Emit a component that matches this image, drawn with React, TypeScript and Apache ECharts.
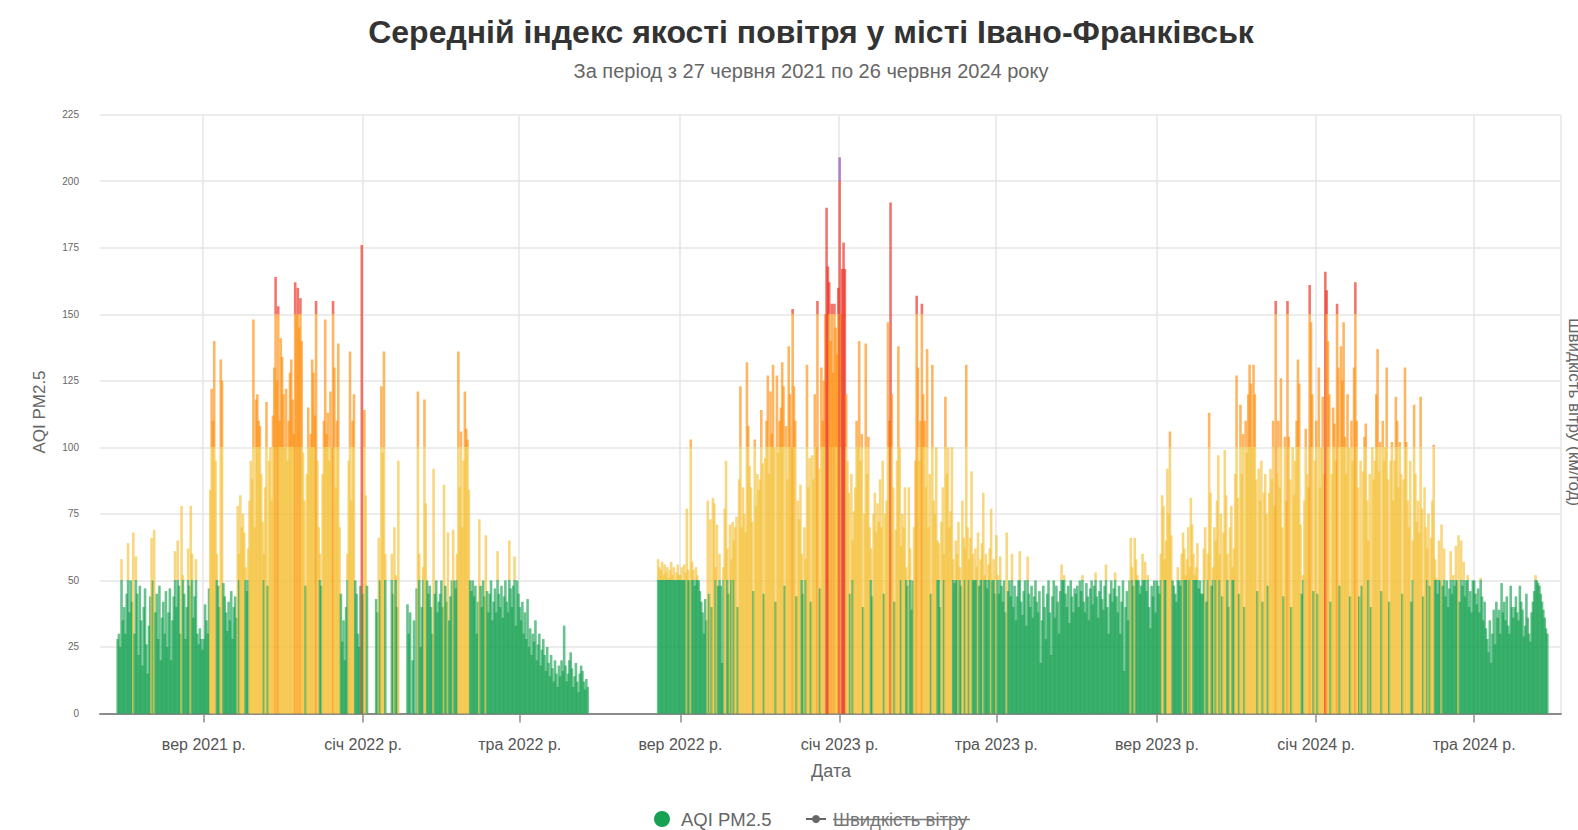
import { useEffect, useRef } from "react";
import * as echarts from "echarts";

// ---- Daily AQI PM2.5 values, one array per month ----
const jun2021 = [28, 30, 25, 58]; // from 27 June 2021
const jul2021 = [35, 40, 30, 45, 64, 38, 50, 42, 68, 30, 59, 45, 22, 48, 35, 18, 40, 47, 26, 15, 33, 44, 66, 50, 69, 38, 45, 28, 48, 20, 36];
const aug2021 = [42, 30, 46, 25, 38, 47, 20, 35, 44, 61, 40, 65, 48, 30, 78, 52, 45, 28, 40, 62, 48, 78, 60, 36, 44, 58, 30, 26, 32, 28, 24];
const sep2021 = [28, 41, 35, 30, 47, 84, 122, 110, 140, 95, 60, 48, 40, 133, 125, 49, 44, 38, 31, 42, 35, 46, 28, 40, 44, 36, 78, 60, 82, 70];
const oct2021 = [75, 68, 55, 46, 62, 80, 95, 88, 148, 70, 118, 120, 110, 108, 90, 72, 60, 85, 117, 48, 95, 100, 80, 112, 130, 164, 125, 153, 110, 141, 134];
const nov2021 = [120, 100, 122, 95, 110, 128, 133, 118, 105, 162, 150, 160, 145, 156, 140, 98, 80, 48, 90, 115, 100, 105, 133, 128, 112, 155, 95, 70, 60, 48];
const dec2021 = [90, 110, 148, 105, 113, 95, 121, 100, 155, 130, 85, 110, 139, 70, 45, 27, 35, 20, 40, 60, 95, 136, 80, 110, 120, 50, 45, 30, 25, 48, 176];
const jan2022 = [45, 114, 82, 48, null, null, null, null, null, null, 43, 38, 66, 50, 123, 98, 136, 60, null, null, null, null, 60, 45, 70, 52, 40, 95, null, null, null];
const feb2022 = [null, null, null, 41, 30, 38, null, 20, 35, null, 47, 121, 60, 25, 40, 55, 118, 79, 50, 45, 48, 40, 30, 92, 45, 50, 38, 42];
const mar2022 = [45, 50, 40, 86, 48, 42, 68, 35, 44, 50, 69, 50, 47, 60, 136, 85, 106, 70, 95, 121, 107, 103, 84, 50, 46, 50, 44, 48, 30, 42, 73];
const apr2022 = [48, 40, 50, 44, 67, 46, 38, 45, 50, 35, 42, 47, 38, 61, 45, 40, 48, 36, 44, 50, 42, 38, 65, 47, 40, 48, 59, 33, 50, 45];
const may2022 = [40, 35, 42, 30, 38, 28, 43, 25, 32, 22, 30, 27, 35, 20, 26, 30, 18, 24, 28, 22, 16, 25, 19, 14, 22, 17, 12, 20, 15, 10, 18];
const jun2022 = [14, 20, 16, 33, 18, 12, 15, 20, 23, 17, 10, 14, 19, 12, 8, 15, 18, 16, 12, 9, 13, 10];
const aug2022 = [58, 55, 54, 57, 52, 56, 53, 55, 51, 54, 57, 52, 55, 50, 53, 56, 52]; // from 15 Aug 2022
const sep2022 = [52, 55, 50, 56, 53, 77, 54, 50, 103, 57, 54, 48, 55, 52, 50, 46, 42, 38, 30, 43, 35, 80, 45, 73, 40, 81, 79, 55, 71, 48];
const oct2022 = [60, 48, 19, 55, 77, 95, 62, 45, 71, 58, 72, 65, 70, 74, 40, 88, 123, 70, 85, 75, 68, 132, 108, 93, 85, 72, 46, 103, 78, 90, 84];
const nov2022 = [88, 114, 94, 45, 96, 110, 127, 90, 121, 105, 131, 100, 42, 127, 98, 110, 115, 132, 123, 48, 108, 88, 138, 120, 100, 152, 123, 110, 44, 80];
const dec2022 = [73, 86, 60, 45, 70, 58, 131, 85, 96, 42, 97, 88, 120, 100, 155, 92, 47, 130, 110, 125, 150, 190, 168, 162, 140, 154, 128, 154, 145, 135, 160];
const jan2023 = [209, 150, 167, 177, 167, 120, 95, 83, 45, 90, 65, 76, 85, 110, 100, 140, 95, 105, 40, 75, 139, 90, 104, 70, 62, 44, 75, 83, 68, 79, 72];
const feb2023 = [88, 70, 95, 45, 75, 80, 147, 110, 192, 120, 85, 42, 69, 95, 138, 100, 63, 75, 70, 85, 55, 48, 85, 62, 39, 50, 70, 95];
const mar2023 = [157, 130, 95, 110, 154, 120, 110, 85, 137, 70, 90, 45, 131, 80, 75, 100, 65, 64, 40, 72, 85, 60, 119, 90, 100, 70, 76, 100, 58, 49, 65];
const apr2023 = [60, 72, 55, 48, 80, 66, 62, 131, 70, 58, 66, 91, 60, 50, 62, 55, 68, 48, 58, 64, 83, 52, 60, 47, 56, 62, 77, 50, 58, 45];
const may2023 = [67, 52, 45, 59, 48, 42, 50, 38, 68, 46, 50, 44, 60, 40, 48, 35, 44, 50, 61, 42, 37, 46, 50, 33, 59, 45, 40, 48, 36, 44, 50];
const jun2023 = [42, 38, 46, 19, 35, 48, 40, 28, 45, 50, 38, 22, 44, 50, 36, 48, 42, 30, 46, 56, 50, 52, 45, 40, 48, 34, 50, 44, 38, 47];
const jul2023 = [45, 48, 40, 50, 46, 52, 42, 38, 49, 44, 35, 47, 50, 41, 48, 53, 44, 36, 46, 50, 43, 39, 48, 56, 40, 30, 45, 50, 42, 47, 53];
const aug2023 = [44, 38, 48, 30, 42, 50, 16, 40, 46, 35, 50, 66, 55, 48, 66, 58, 52, 50, 45, 48, 60, 50, 57, 46, 52, 40, 32, 48, 44, 50, 38];
const sep2023 = [50, 48, 45, 60, 82, 78, 58, 65, 92, 75, 106, 67, 50, 48, 45, 42, 55, 50, 48, 60, 68, 62, 52, 58, 70, 55, 81, 71, 60, 52];
const oct2023 = [55, 64, 47, 50, 45, 45, 62, 70, 42, 60, 113, 83, 48, 55, 70, 65, 80, 97, 60, 75, 44, 68, 99, 82, 60, 40, 70, 78, 55, 62, 90];
const nov2023 = [127, 81, 45, 116, 90, 105, 40, 110, 98, 120, 131, 124, 100, 131, 120, 88, 46, 92, 80, 95, 42, 83, 90, 75, 48, 83, 92, 88, 110, 78];
const dec2023 = [155, 90, 110, 85, 126, 70, 44, 104, 80, 155, 104, 88, 40, 100, 82, 95, 110, 133, 124, 71, 45, 52, 80, 107, 90, 85, 161, 147, 120, 46, 95];
const jan2024 = [110, 45, 130, 85, 100, 119, 90, 166, 159, 140, 120, 42, 90, 115, 109, 95, 154, 130, 48, 138, 125, 147, 104, 90, 120, 100, 44, 110, 95, 130, 162];
const feb2024 = [110, 85, 44, 95, 48, 91, 104, 109, 80, 65, 90, 40, 100, 88, 95, 120, 137, 91, 102, 46, 110, 95, 100, 130, 88, 42, 95, 102, 80];
const mar2024 = [95, 119, 110, 85, 102, 90, 45, 88, 130, 102, 80, 70, 95, 42, 65, 116, 90, 72, 80, 68, 119, 77, 44, 85, 70, 62, 75, 48, 66, 80, 101];
const apr2024 = [58, 51, 45, 65, 50, 71, 48, 62, 44, 50, 40, 47, 61, 45, 52, 48, 63, 50, 67, 42, 65, 48, 57, 44, 50, 52, 40, 46, 38, 50];
const may2024 = [50, 45, 41, 47, 38, 51, 44, 35, 42, 32, 28, 23, 35, 19, 30, 39, 26, 42, 36, 39, 30, 49, 38, 42, 35, 44, 33, 30, 48, 40, 36];
const jun2024 = [40, 44, 38, 35, 48, 42, 39, 29, 33, 45, 36, 30, 27, 38, 42, 46, 52, 50, 49, 48, 45, 42, 39, 36, 32, 30];

const segments: [string, (number | null)[]][] = [
  ["2021-06-27", jun2021], ["2021-07-01", jul2021], ["2021-08-01", aug2021], ["2021-09-01", sep2021],
  ["2021-10-01", oct2021], ["2021-11-01", nov2021], ["2021-12-01", dec2021], ["2022-01-01", jan2022],
  ["2022-02-01", feb2022], ["2022-03-01", mar2022], ["2022-04-01", apr2022], ["2022-05-01", may2022],
  ["2022-06-01", jun2022], ["2022-08-15", aug2022], ["2022-09-01", sep2022], ["2022-10-01", oct2022],
  ["2022-11-01", nov2022], ["2022-12-01", dec2022], ["2023-01-01", jan2023], ["2023-02-01", feb2023],
  ["2023-03-01", mar2023], ["2023-04-01", apr2023], ["2023-05-01", may2023], ["2023-06-01", jun2023],
  ["2023-07-01", jul2023], ["2023-08-01", aug2023], ["2023-09-01", sep2023], ["2023-10-01", oct2023],
  ["2023-11-01", nov2023], ["2023-12-01", dec2023], ["2024-01-01", jan2024], ["2024-02-01", feb2024],
  ["2024-03-01", mar2024], ["2024-04-01", apr2024], ["2024-05-01", may2024], ["2024-06-01", jun2024],
];

const axisStart = "2021-06-14";
const axisEnd = "2024-07-06";
const monthNames = ["січ", "лют", "бер", "кві", "тра", "чер", "лип", "сер", "вер", "жов", "лис", "гру"];
const tickMonths = [1, 5, 9];

const GREEN = "#17a152";
const YELLOW = "#f4c13a";
const ORANGE = "#fd8f0f";
const RED = "#ec2a1c";
const PURPLE = "#8e44ad";
const FONT = "'Liberation Sans', Arial, Helvetica, sans-serif";

const DAY = 86400000;
const ymd = (t: number) => new Date(t).toISOString().slice(0, 10);
const toT = (s: string) => Date.parse(s + "T00:00:00Z");

function split(v: number, threshold: number, top: string, bottom: string) {
  const f = (v - threshold) / v;
  return new echarts.graphic.LinearGradient(0, 0, 0, 1, [
    { offset: 0, color: top },
    { offset: f, color: top },
    { offset: f, color: bottom },
    { offset: 1, color: bottom },
  ]);
}

function colorFor(v: number): any {
  if (v <= 50) return GREEN;
  if (v <= 100) return v < 66 ? split(v, 50, YELLOW, GREEN) : YELLOW;
  if (v <= 150) return split(v, 100, ORANGE, YELLOW);
  if (v <= 200) return v >= 165 ? RED : split(v, 150, RED, ORANGE);
  return split(v, 200, PURPLE, RED);
}

const isTick = (value: string) =>
  value.endsWith("-01") && tickMonths.includes(Number(value.slice(5, 7)));

function buildData() {
  const map = new Map<string, number | null>();
  for (const [start, arr] of segments) {
    const t0 = toT(start);
    arr.forEach((v, i) => map.set(ymd(t0 + i * DAY), v));
  }
  const cats: string[] = [];
  const vals: any[] = [];
  for (let t = toT(axisStart); t <= toT(axisEnd); t += DAY) {
    const k = ymd(t);
    cats.push(k);
    const v = map.has(k) ? map.get(k) : null;
    vals.push(v == null ? null : { value: v, itemStyle: { color: colorFor(v) } });
  }
  return { cats, vals };
}

export default function App() {
  const ref = useRef<HTMLDivElement>(null);
  useEffect(() => {
    if (!ref.current) return;
    const chart = echarts.init(ref.current, undefined, { renderer: "svg" });
    const { cats, vals } = buildData();
    const txt = (text: string, x: number, y: number, size: number, color: string, extra: any = {}) => ({
      type: "text",
      x,
      y,
      silent: true,
      rotation: extra.rotation || 0,
      style: {
        text,
        fill: color,
        fontSize: size,
        fontFamily: FONT,
        fontWeight: extra.bold ? "bold" : "normal",
        align: extra.align || "center",
        textAlign: extra.align || "center",
        verticalAlign: "middle",
        textVerticalAlign: "middle",
      },
    });
    chart.setOption({
      animation: false,
      backgroundColor: "#ffffff",
      grid: { left: 100, right: 17, top: 114.7, bottom: 116.5, containLabel: false },
      xAxis: {
        type: "category",
        data: cats,
        boundaryGap: true,
        axisLine: { show: true, lineStyle: { color: "#8c8c8c", width: 2 } },
        axisTick: {
          show: true,
          alignWithLabel: true,
          interval: (_i: number, v: string) => isTick(v),
          length: 9,
          lineStyle: { color: "#8c8c8c", width: 1.5 },
        },
        axisLabel: {
          interval: (_i: number, v: string) => isTick(v),
          formatter: (v: string) => `${monthNames[Number(v.slice(5, 7)) - 1]} ${v.slice(0, 4)} р.`,
          color: "#555",
          fontSize: 16,
          fontFamily: FONT,
          margin: 23,
        },
        splitLine: {
          show: true,
          interval: (_i: number, v: string) => isTick(v),
          lineStyle: { color: "#e6e6e6", width: 1.5 },
        },
      },
      yAxis: {
        type: "value",
        min: 0,
        max: 225,
        interval: 25,
        axisLine: { show: false },
        axisTick: { show: false },
        axisLabel: { color: "#666", fontSize: 10, fontFamily: FONT, margin: 21 },
        splitLine: { lineStyle: { color: "#e6e6e6", width: 1.5 } },
      },
      series: [
        {
          name: "AQI PM2.5",
          type: "bar",
          data: vals,
          barWidth: 2.6,
          itemStyle: { opacity: 0.65 },
          silent: true,
        },
      ],
      graphic: [
        txt("Середній індекс якості повітря у місті Івано-Франківськ", 811, 32, 32, "#333", { bold: true }),
        txt("За період з 27 червня 2021 по 26 червня 2024 року", 811, 70.5, 20, "#666"),
        txt("AQI PM2.5", 39, 412, 17, "#666", { rotation: Math.PI / 2 }),
        txt("Швидкість вітру (км/год)", 1574, 412, 17, "#666", { rotation: -Math.PI / 2 }),
        txt("Дата", 831, 771, 18, "#666"),
        { type: "circle", silent: true, shape: { cx: 662, cy: 819, r: 8 }, style: { fill: GREEN } },
        txt("AQI PM2.5", 681, 819, 18.5, "#666", { align: "left" }),
        { type: "line", silent: true, shape: { x1: 806, y1: 819, x2: 826, y2: 819 }, style: { stroke: "#666", lineWidth: 2 } },
        { type: "circle", silent: true, shape: { cx: 816, cy: 819, r: 4 }, style: { fill: "#666" } },
        txt("Швидкість вітру", 833, 819, 18.5, "#777", { align: "left" }),
        { type: "line", silent: true, shape: { x1: 833, y1: 819.5, x2: 970, y2: 819.5 }, style: { stroke: "#777", lineWidth: 1.3 } },
      ],
    });
    return () => chart.dispose();
  }, []);
  return <div ref={ref} style={{ width: 1578, height: 830, position: "absolute", left: 0, top: 0 }} />;
}
